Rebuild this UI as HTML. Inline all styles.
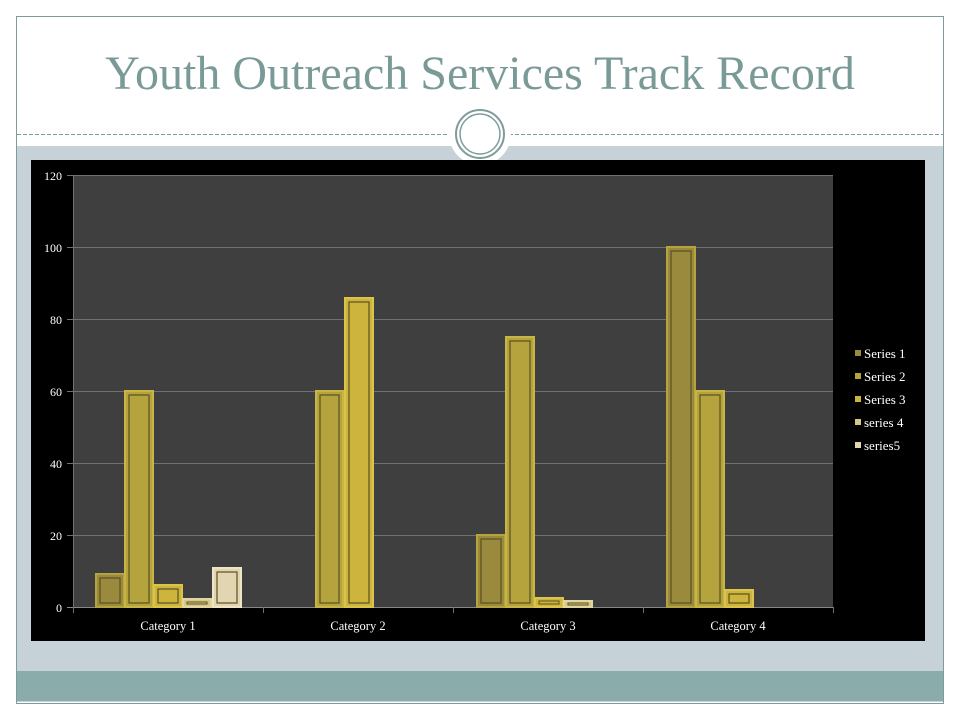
<!DOCTYPE html>
<html><head><meta charset="utf-8"><style>
body{margin:0;background:#fff}
svg{display:block}
text{font-family:"Liberation Serif",serif}
</style></head><body>
<svg width="960" height="720" xmlns="http://www.w3.org/2000/svg">
<rect width="960" height="720" fill="#fff"/>
<rect x="16.5" y="16.5" width="927" height="687" fill="none" stroke="#7f9c9c" stroke-width="1"/>
<rect x="17" y="146" width="926" height="525" fill="#c6d2d7"/>
<rect x="17" y="671" width="926" height="31" fill="#8aadab"/>
<line x1="17" y1="701.5" x2="943" y2="701.5" stroke="#c6d2d7"/>
<line x1="17" y1="134.5" x2="943" y2="134.5" stroke="#7f9c9c" stroke-dasharray="4,2"/>
<circle cx="480" cy="134" r="31" fill="#fff"/>
<circle cx="480" cy="134" r="24" fill="none" stroke="#7f9c9c" stroke-width="2"/>
<circle cx="480" cy="134" r="20" fill="none" stroke="#7f9c9c" stroke-width="1.5"/>
<text x="480" y="89" text-anchor="middle" font-size="48" fill="#7a9a98">Youth Outreach Services Track Record</text>
<rect x="31" y="160" width="894" height="481" fill="#000"/>
<rect x="73" y="175" width="760" height="432" fill="#3f3f3f"/>
<g stroke="#707070" stroke-width="1">
<line x1="67" y1="175.5" x2="833" y2="175.5"/>
<line x1="67" y1="247.5" x2="833" y2="247.5"/>
<line x1="67" y1="319.5" x2="833" y2="319.5"/>
<line x1="67" y1="391.5" x2="833" y2="391.5"/>
<line x1="67" y1="463.5" x2="833" y2="463.5"/>
<line x1="67" y1="535.5" x2="833" y2="535.5"/>
<line x1="67" y1="607.5" x2="833" y2="607.5" stroke="#888"/>
<line x1="73.5" y1="175" x2="73.5" y2="613"/>
<line x1="263.5" y1="607" x2="263.5" y2="613"/>
<line x1="453.5" y1="607" x2="453.5" y2="613"/>
<line x1="643.5" y1="607" x2="643.5" y2="613"/>
<line x1="833.5" y1="607" x2="833.5" y2="613"/>
</g>
<g font-size="12" fill="#fff" text-anchor="end">
<text x="62" y="180">120</text><text x="62" y="252">100</text><text x="62" y="324">80</text>
<text x="62" y="396">60</text><text x="62" y="468">40</text><text x="62" y="540">20</text><text x="62" y="612">0</text>
</g>
<g font-size="12.5" fill="#fff" text-anchor="middle">
<text x="168" y="630">Category 1</text><text x="358" y="630">Category 2</text>
<text x="548" y="630">Category 3</text><text x="738" y="630">Category 4</text>
</g>
<g stroke-width="2">
<rect x="96" y="574" width="28" height="33" fill="#9a8a3e" stroke="#b5a33e"/><rect x="100" y="578" width="20" height="25" fill="none" stroke="#5a5020" stroke-width="1.2"/>
<rect x="125" y="391" width="28" height="216" fill="#b5a33e" stroke="#c9b545"/><rect x="129" y="395" width="20" height="208" fill="none" stroke="#5a5020" stroke-width="1.2"/>
<rect x="154" y="585" width="28" height="22" fill="#cdb43c" stroke="#dcc44a"/><rect x="158" y="589" width="20" height="14" fill="none" stroke="#5a5020" stroke-width="1.2"/>
<rect x="183" y="599" width="28" height="8" fill="#d8c888" stroke="#e2d6a0"/><rect x="187" y="602" width="20" height="2" fill="none" stroke="#5a5020" stroke-width="1"/>
<rect x="213" y="568" width="28" height="39" fill="#e2d6b2" stroke="#eee4c6"/><rect x="217" y="572" width="20" height="31" fill="none" stroke="#5a5020" stroke-width="1.2"/>
<rect x="316" y="391" width="27" height="216" fill="#b5a33e" stroke="#c9b545"/><rect x="320" y="395" width="19" height="208" fill="none" stroke="#5a5020" stroke-width="1.2"/>
<rect x="345" y="298" width="28" height="309" fill="#cdb43c" stroke="#dcc44a"/><rect x="349" y="302" width="20" height="301" fill="none" stroke="#5a5020" stroke-width="1.2"/>
<rect x="477" y="535" width="28" height="72" fill="#9a8a3e" stroke="#b5a33e"/><rect x="481" y="539" width="20" height="64" fill="none" stroke="#5a5020" stroke-width="1.2"/>
<rect x="506" y="337" width="28" height="270" fill="#b5a33e" stroke="#c9b545"/><rect x="510" y="341" width="20" height="262" fill="none" stroke="#5a5020" stroke-width="1.2"/>
<rect x="535" y="598" width="28" height="9" fill="#cdb43c" stroke="#dcc44a"/><rect x="539" y="601" width="20" height="3" fill="none" stroke="#5a5020" stroke-width="1"/>
<rect x="564" y="601" width="28" height="6" fill="#d8c888" stroke="#e2d6a0"/><rect x="568" y="603" width="20" height="2" fill="none" stroke="#5a5020" stroke-width="1"/>
<rect x="667" y="247" width="28" height="360" fill="#9a8a3e" stroke="#b5a33e"/><rect x="671" y="251" width="20" height="352" fill="none" stroke="#5a5020" stroke-width="1.2"/>
<rect x="696" y="391" width="28" height="216" fill="#b5a33e" stroke="#c9b545"/><rect x="700" y="395" width="20" height="208" fill="none" stroke="#5a5020" stroke-width="1.2"/>
<rect x="725" y="590" width="28" height="17" fill="#cdb43c" stroke="#dcc44a"/><rect x="729" y="594" width="20" height="9" fill="none" stroke="#5a5020" stroke-width="1.2"/>
</g>
<g font-size="13" fill="#fff">
<rect x="855" y="350" width="6" height="6" fill="#9a8a3e"/><text x="864" y="358">Series 1</text>
<rect x="855" y="373" width="6" height="6" fill="#b5a33e"/><text x="864" y="381">Series 2</text>
<rect x="855" y="396" width="6" height="6" fill="#cdb43c"/><text x="864" y="404">Series 3</text>
<rect x="855" y="419" width="6" height="6" fill="#d8c888"/><text x="864" y="427">series 4</text>
<rect x="855" y="442" width="6" height="6" fill="#e2d6b2"/><text x="864" y="450">series5</text>
</g>
</svg>
</body></html>
